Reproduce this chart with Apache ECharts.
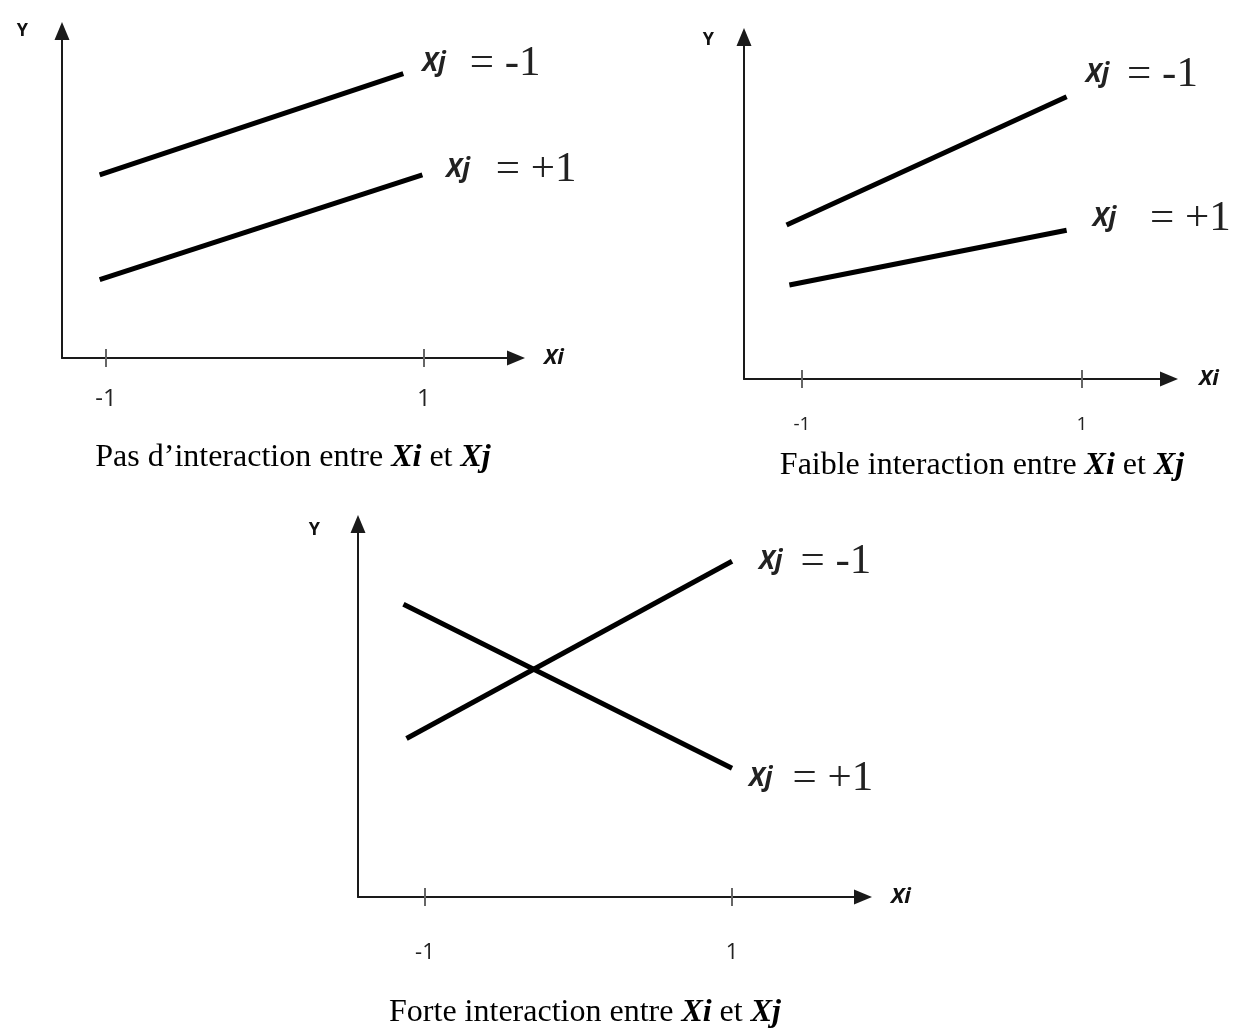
<!DOCTYPE html>
<html>
<head>
    <meta charset="utf-8">
    <title>Interaction Xi Xj</title>
    <script src="https://cdn.jsdelivr.net/npm/echarts@6/dist/echarts.min.js"></script>
    <style>
        html, body { margin: 0; padding: 0; background: #fff; }
    </style>
</head>
<body>
<div id="main" style="width: 1239px;height:1028px;"></div>
<script type="text/javascript">
    // valeurs : [Xi, Y]
    var xiTicks = [-1, 1];
    var seriesNames = ['Xj = -1', 'Xj = +1'];
    var niveaux = ['= -1', '= +1'];

    // Pas d'interaction
    var pasXjMoins = [[-1.04, 5.6], [0.87, 8.7]];
    var pasXjPlus = [[-1.04, 2.4], [0.99, 5.6]];
    // Faible interaction
    var faibleXjMoins = [[-1.11, 4.5], [0.89, 8.25]];
    var faibleXjPlus = [[-1.09, 2.75], [0.89, 4.35]];
    // Forte interaction
    var forteXjMoins = [[-1.12, 4.25], [1.0, 9.0]];
    var forteXjPlus = [[-1.14, 7.85], [1.0, 3.45]];

    var legendes = [
        'Pas d\u2019interaction entre {b|Xi} et {b|Xj}',
        'Faible interaction entre {b|Xi} et {b|Xj}',
        'Forte interaction entre {b|Xi} et {b|Xj}'
    ];

    var donnees = [
        [pasXjMoins, pasXjPlus],
        [faibleXjMoins, faibleXjPlus],
        [forteXjMoins, forteXjPlus]
    ];

    // mise en page de chaque panneau (pixels)
    var panneaux = [
        {left: 62, top: 31, width: 454, height: 327, xMin: -1.277, xMax: 1.579,
         labelSize: 24, labelMargin: 29, xiGap: 28, yPad: 34, yGap: 0,
         caption: [288, 437],
         ends: [{off: [19, -10], gap: 24}, {off: [24, -5], gap: 26}]},
        {left: 744, top: 37, width: 425, height: 342, xMin: -1.414, xMax: 1.621,
         labelSize: 19, labelMargin: 36, xiGap: 30, yPad: 30, yGap: -3,
         caption: [977, 445],
         ends: [{off: [19, -22], gap: 18}, {off: [26, -12], gap: 34}]},
        {left: 358, top: 524, width: 505, height: 373, xMin: -1.436, xMax: 1.853,
         labelSize: 22, labelMargin: 45, xiGap: 28, yPad: 38, yGap: -6,
         caption: [580, 992],
         ends: [{off: [27, 0], gap: 18}, {off: [17, 10], gap: 20}]}
    ];

    var myChart = echarts.init(document.getElementById('main'));

    var grid = [], xAxis = [], yAxis = [], series = [], title = [];

    for (var i = 0; i < panneaux.length; i++) {
        var p = panneaux[i];
        grid.push({left: p.left, top: p.top, width: p.width, height: p.height, containLabel: false});

        // axe principal : ligne, fleche, graduations vers le haut, libelles
        xAxis.push({
            gridIndex: i, type: 'value', min: p.xMin, max: p.xMax,
            name: 'Xi', nameLocation: 'end', nameGap: p.xiGap,
            nameTextStyle: {fontFamily: 'Open Sans', fontSize: 22, fontWeight: 'bold', fontStyle: 'italic',
                color: '#111', padding: [0, 0, 14, 0]},
            axisLine: {show: true, onZero: false, symbol: ['none', 'triangle'], symbolSize: [15, 18],
                lineStyle: {color: '#1a1a1a', width: 2}},
            axisTick: {show: true, inside: true, length: 9, customValues: xiTicks,
                lineStyle: {color: '#666', width: 2}},
            axisLabel: {show: true, customValues: xiTicks, margin: p.labelMargin,
                fontFamily: 'Open Sans', fontSize: p.labelSize, color: '#222'},
            splitLine: {show: false}
        });
        // second axe : graduations vers le bas
        xAxis.push({
            gridIndex: i, type: 'value', min: p.xMin, max: p.xMax, position: 'bottom', offset: 0,
            axisLine: {show: false, onZero: false},
            axisTick: {show: true, inside: false, length: 9, customValues: xiTicks,
                lineStyle: {color: '#666', width: 2}},
            axisLabel: {show: false},
            splitLine: {show: false}
        });
        yAxis.push({
            gridIndex: i, type: 'value', min: 0, max: 10,
            name: 'Y', nameLocation: 'end', nameGap: p.yGap,
            nameTextStyle: {fontFamily: 'Open Sans', fontSize: 18, fontWeight: 'bold', color: '#111',
                align: 'right', verticalAlign: 'middle', padding: [0, p.yPad, 0, 0]},
            axisLine: {show: true, onZero: false, symbol: ['none', 'triangle'], symbolSize: [15, 18],
                lineStyle: {color: '#1a1a1a', width: 2}},
            axisTick: {show: false},
            axisLabel: {show: false},
            splitLine: {show: false}
        });

        for (var k = 0; k < 2; k++) {
            var e = p.ends[k];
            series.push({
                name: seriesNames[k],
                type: 'line',
                xAxisIndex: i * 2,
                yAxisIndex: i,
                data: donnees[i][k],
                symbol: 'none',
                silent: true,
                lineStyle: {color: '#000', width: 5},
                endLabel: {
                    show: true,
                    distance: 0,
                    offset: e.off,
                    formatter: (function (niv) {
                        return function () { return '{xj|Xj}{eq|' + niv + '}'; };
                    })(niveaux[k]),
                    rich: {
                        xj: {fontFamily: 'Open Sans', fontSize: 26, fontStyle: 'italic', fontWeight: 'bold', color: '#222'},
                        eq: {fontFamily: 'Liberation Serif', fontSize: 43, color: '#222', padding: [0, 0, 0, e.gap]}
                    }
                }
            });
        }

        title.push({
            text: legendes[i],
            left: p.caption[0],
            top: p.caption[1],
            textAlign: 'center',
            textStyle: {
                fontFamily: 'Liberation Serif', fontSize: 32, fontWeight: 'normal', color: '#000',
                rich: {
                    b: {fontFamily: 'Liberation Serif', fontSize: 32, fontWeight: 'bold', fontStyle: 'italic', color: '#000'}
                }
            }
        });
    }

    var option = {
        animation: false,
        backgroundColor: '#fff',
        title: title,
        grid: grid,
        xAxis: xAxis,
        yAxis: yAxis,
        series: series
    };

    myChart.setOption(option);
</script>
</body>
</html>
